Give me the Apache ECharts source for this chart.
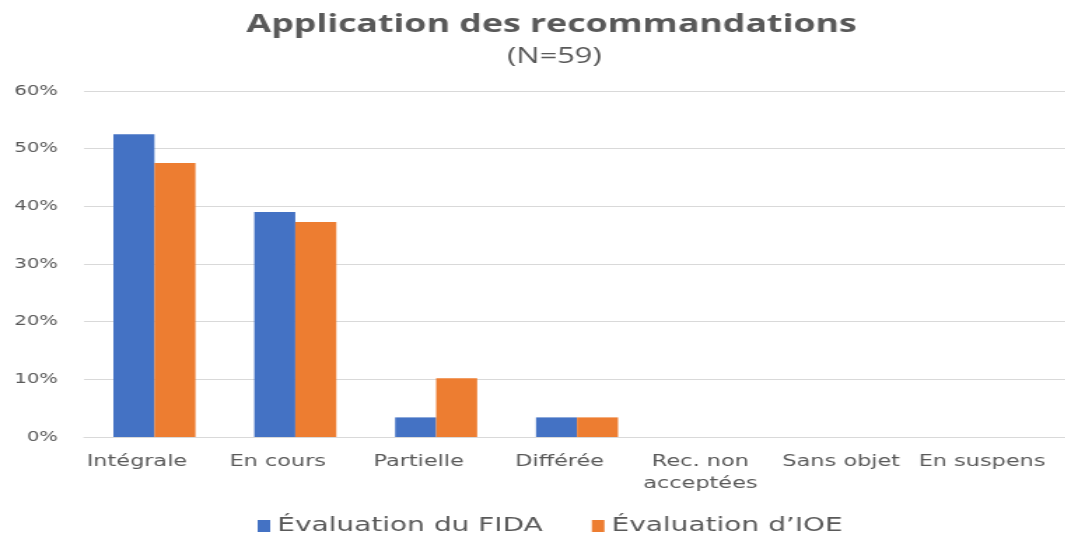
<!DOCTYPE html>
<html><head><meta charset="utf-8">
<script src="https://cdn.jsdelivr.net/npm/echarts@6/dist/echarts.min.js"></script>
<style>
html,body{margin:0;padding:0;background:#fff;overflow:hidden}
#wrap{width:1065px;height:535px;overflow:hidden}
#c{width:761px;height:535px;transform:scaleX(1.4);transform-origin:0 0}
</style>
</head><body><div id="wrap"><div id="c"></div></div>
<script>
const categories = ['Intégrale', 'En cours', 'Partielle', 'Différée', 'Rec. non\nacceptées', 'Sans objet', 'En suspens'];
const seriesNames = ['Évaluation du FIDA', 'Évaluation d\u2019IOE'];
const fidaValues = [52.5, 39.0, 3.4, 3.4, 0, 0, 0];
const ioeValues = [47.5, 37.3, 10.2, 3.4, 0, 0, 0];
const yTicks = [0, 10, 20, 30, 40, 50, 60];

const chart = echarts.init(document.getElementById('c'), null, {renderer: 'canvas'});
chart.setOption({
  animation: false,
  backgroundColor: '#ffffff',
  title: [{
    text: 'Application des recommandations',
    left: 389, top: 7, textAlign: 'center',
    textStyle: {fontFamily: 'Open Sans', fontWeight: 'bold', fontSize: 25.5, color: '#595959'}
  }, {
    text: '(N=59)',
    left: 391, top: 41, textAlign: 'center',
    textStyle: {fontFamily: 'Open Sans', fontWeight: 'normal', fontSize: 22, color: '#595959'}
  }],
  legend: {
    top: 511, left: 179, itemWidth: 9, itemHeight: 12, itemGap: 35,
    icon: 'rect',
    textStyle: {fontFamily: 'DejaVu Sans', fontSize: 20, color: '#595959'},
    data: seriesNames
  },
  grid: {left: 60, top: 91, width: 704.3, height: 346, containLabel: false, outerBoundsMode: 'none'},
  xAxis: {
    type: 'category', data: categories,
    axisLine: {show: true, lineStyle: {color: '#d9d9d9'}},
    axisTick: {show: false},
    axisLabel: {fontFamily: 'DejaVu Sans', fontSize: 16, color: '#595959', margin: 14, lineHeight: 22,
      interval: 0, padding: [0, 25, 0, 0]}
  },
  yAxis: {
    type: 'value', min: yTicks[0], max: yTicks[yTicks.length - 1], interval: 10,
    axisLine: {show: false}, axisTick: {show: false},
    splitLine: {lineStyle: {color: '#d9d9d9'}},
    axisLabel: {fontFamily: 'DejaVu Sans', fontSize: 14, color: '#595959', margin: 18.6, formatter: v => v + '%'}
  },
  series: [{
    name: seriesNames[0], type: 'bar', data: fidaValues, barWidth: 29.3, barGap: '0%',
    itemStyle: {color: '#4472c4'}
  }, {
    name: seriesNames[1], type: 'bar', data: ioeValues, barWidth: 29.3, barGap: '0%',
    itemStyle: {color: '#ed7d31'}
  }]
});
</script></body></html>
